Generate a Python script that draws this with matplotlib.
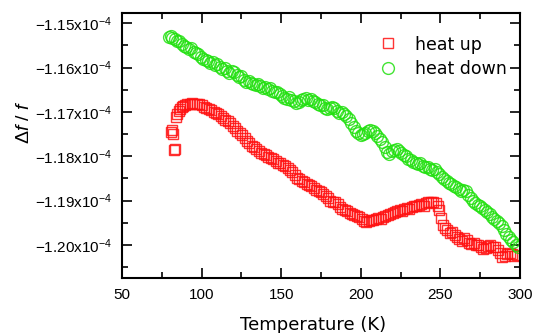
import numpy as np
import matplotlib.pyplot as plt
import matplotlib.ticker as mtick

# heat up (red squares), T in K, df/f in units of 1e-4
up_T = [81, 81.5, 82, 82.5, 83.5, 84, 84.5, 85.5, 86.5, 87.5, 88.5, 89.5, 91, 92.5, 94, 95.5, 97, 98.5,
        100, 101.5, 103, 104.5, 106, 107.5, 109, 110.5, 112, 113.5, 115, 116.5, 118, 119.5, 121, 122.5,
        124, 125.5, 127, 128.5, 130, 131.5, 133, 134.5, 136, 137.5, 139, 140.5, 142, 143.5, 145, 146.5,
        148, 149.5, 151, 152.5, 154, 155.5, 157, 158.5, 160, 161.5, 163, 164.5, 166, 167.5, 169, 170.5,
        172, 173.5, 175, 176.5, 178, 179.5, 181, 182.5, 184, 185.5, 187, 188.5, 190, 191.5, 193, 194.5,
        196, 197.5, 199, 200.5, 202, 203.5, 205, 206.5, 208, 209.5, 211, 212.5, 214, 215.5, 217, 218.5,
        220, 221.5, 223, 224.5, 226, 227.5, 229, 230.5, 232, 233.5, 235, 236.5, 238, 239.5, 241, 242.5,
        244, 245.5, 247, 248.5, 249.5, 250.5, 251.5, 253, 254.5, 256, 257.5, 259, 260.5, 262, 263.5, 265,
        266.5, 268, 269.5, 271, 272.5, 274, 275.5, 277, 278.5, 280, 281.5, 283, 284.5, 286, 287.5, 289,
        290.5, 292, 293.5, 295, 296.5, 298]
up_val = [-1.1745, -1.1740, -1.1749, -1.1786, -1.1783, -1.1712, -1.1705, -1.1698, -1.1693, -1.1689,
          -1.1687, -1.1685, -1.1683, -1.1681, -1.1680, -1.1681, -1.1682, -1.1683, -1.1685, -1.1688,
          -1.1690, -1.1693, -1.1696, -1.1699, -1.1702, -1.1705, -1.1709, -1.1713, -1.1717, -1.1721,
          -1.1726, -1.1732, -1.1737, -1.1742, -1.1748, -1.1753, -1.1759, -1.1765, -1.1771, -1.1776,
          -1.1780, -1.1783, -1.1788, -1.1792, -1.1795, -1.1798, -1.1801, -1.1804, -1.1807, -1.1811,
          -1.1814, -1.1816, -1.1819, -1.1822, -1.1826, -1.1831, -1.1836, -1.1842, -1.1848, -1.1852,
          -1.1855, -1.1858, -1.1862, -1.1865, -1.1868, -1.1872, -1.1876, -1.1878, -1.1880, -1.1884,
          -1.1889, -1.1895, -1.1900, -1.1904, -1.1903, -1.1908, -1.1915, -1.1918, -1.1920, -1.1923,
          -1.1927, -1.1930, -1.1932, -1.1934, -1.1937, -1.1941, -1.1946, -1.1948, -1.1945, -1.1943,
          -1.1944, -1.1941, -1.1940, -1.1942, -1.1937, -1.1935, -1.1933, -1.1930, -1.1928, -1.1926,
          -1.1924, -1.1921, -1.1923, -1.1919, -1.1916, -1.1918, -1.1914, -1.1912, -1.1913, -1.1910,
          -1.1908, -1.1911, -1.1906, -1.1904, -1.1903, -1.1902, -1.1905, -1.1912, -1.1922, -1.1938,
          -1.1955, -1.1962, -1.1966, -1.1972, -1.1970, -1.1977, -1.1981, -1.1986, -1.1990, -1.1984,
          -1.1988, -1.1995, -1.1998, -1.1996, -1.1999, -1.2001, -1.2005, -1.2008, -1.2006, -1.2002,
          -1.2000, -1.2004, -1.2005, -1.2012, -1.2018, -1.2026, -1.2024, -1.2020, -1.2018, -1.2021,
          -1.2025, -1.2022]

# heat down (green circles)
down_T = [79.5, 80.5, 81.5, 83, 84.5, 86, 87.5, 89, 90.5, 92, 93.5, 95, 96.5, 98, 99.5, 101, 102.5, 104,
          105.5, 107, 108.5, 110, 111.5, 113, 114.5, 116, 117.5, 119, 120.5, 122, 123.5, 125, 126.5, 128,
          129.5, 131, 132.5, 134, 135.5, 137, 138.5, 140, 141.5, 143, 144.5, 146, 147.5, 149, 150.5, 152,
          153.5, 155, 156.5, 158, 159.5, 161, 162.5, 164, 165.5, 167, 168.5, 170, 171.5, 173, 174.5, 176,
          177.5, 179, 180.5, 182, 183.5, 185, 186.5, 188, 189.5, 191, 192.5, 194, 195.5, 197, 198.5, 200,
          201.5, 203, 204.5, 206, 207.5, 209, 210.5, 212, 213.5, 215, 216.5, 218, 219.5, 221, 222.5, 224,
          225.5, 227, 228.5, 230, 231.5, 233, 234.5, 236, 237.5, 239, 240.5, 242, 243.5, 245, 246.5, 248,
          249.5, 251, 252.5, 254, 255.5, 257, 258.5, 260, 261.5, 263, 264.5, 266, 267.5, 269, 270.5, 272,
          273.5, 275, 276.5, 278, 279.5, 281, 282.5, 284, 285.5, 287, 288.5, 290, 291.5, 293, 294.5, 296,
          297.5, 299]
down_val = [-1.1531, -1.1528, -1.1534, -1.1536, -1.1541, -1.1540, -1.1547, -1.1551, -1.1553, -1.1558,
            -1.1556, -1.1565, -1.1568, -1.1570, -1.1575, -1.1580, -1.1582, -1.1586, -1.1590, -1.1588,
            -1.1594, -1.1592, -1.1598, -1.1603, -1.1601, -1.1607, -1.1612, -1.1608, -1.1611, -1.1616,
            -1.1622, -1.1620, -1.1627, -1.1632, -1.1630, -1.1634, -1.1637, -1.1640, -1.1638, -1.1641,
            -1.1646, -1.1644, -1.1648, -1.1646, -1.1652, -1.1656, -1.1654, -1.1660, -1.1664, -1.1668,
            -1.1671, -1.1667, -1.1673, -1.1676, -1.1679, -1.1677, -1.1674, -1.1670, -1.1668, -1.1672,
            -1.1670, -1.1675, -1.1678, -1.1682, -1.1685, -1.1684, -1.1690, -1.1694, -1.1692, -1.1688,
            -1.1691, -1.1697, -1.1702, -1.1699, -1.1705, -1.1709, -1.1716, -1.1725, -1.1735, -1.1742,
            -1.1748, -1.1752, -1.1750, -1.1747, -1.1742, -1.1740, -1.1744, -1.1748, -1.1754, -1.1760,
            -1.1768, -1.1780, -1.1790, -1.1794, -1.1789, -1.1786, -1.1784, -1.1788, -1.1793, -1.1796,
            -1.1800, -1.1806, -1.1809, -1.1812, -1.1815, -1.1818, -1.1816, -1.1822, -1.1825, -1.1823,
            -1.1828, -1.1831, -1.1829, -1.1835, -1.1840, -1.1846, -1.1852, -1.1856, -1.1860, -1.1862,
            -1.1866, -1.1870, -1.1874, -1.1878, -1.1876, -1.1879, -1.1888, -1.1895, -1.1900, -1.1905,
            -1.1910, -1.1912, -1.1917, -1.1921, -1.1926, -1.1931, -1.1936, -1.1942, -1.1946, -1.1951,
            -1.1958, -1.1966, -1.1975, -1.1982, -1.1988, -1.1994, -1.2000, -1.2005]

y_ticks = [-1.15, -1.16, -1.17, -1.18, -1.19, -1.20]
x_ticks = [50, 100, 150, 200, 250, 300]


def ytick_fmt(v, pos):
    return r'$\mathregular{-%.2fx10^{-4}}$' % abs(v * 1e4)


plt.rcParams['font.family'] = ['Liberation Sans', 'DejaVu Sans']
plt.rcParams['mathtext.fontset'] = 'custom'
plt.rcParams['mathtext.rm'] = 'Liberation Sans'
plt.rcParams['mathtext.it'] = 'Liberation Sans:italic'

fig = plt.figure(figsize=(5.34, 3.33), dpi=100)
ax = fig.add_axes([0.2285, 0.164, 0.745, 0.798])

ax.plot(up_T, np.array(up_val) * 1e-4, 's', mfc='none', mec='#ff1010', mew=1.0, ms=6.5,
        alpha=0.85, label='heat up')
ax.plot(down_T, np.array(down_val) * 1e-4, 'o', mfc='none', mec='#22e010', mew=1.0, ms=8.5,
        alpha=0.85, label='heat down')

ax.set_xlim(50, 300)
ax.set_ylim(-1.20752e-4, -1.14761e-4)
ax.set_xticks(x_ticks)
ax.set_yticks(np.array(y_ticks) * 1e-4)
ax.xaxis.set_minor_locator(mtick.MultipleLocator(25))
ax.yaxis.set_minor_locator(mtick.MultipleLocator(0.005e-4))
ax.yaxis.set_major_formatter(mtick.FuncFormatter(ytick_fmt))

ax.tick_params(which='both', direction='in', top=True, right=True, labelsize=11, width=1.2)
ax.tick_params(which='major', length=7, pad=7)
ax.tick_params(which='minor', length=4.5)
for s in ax.spines.values():
    s.set_linewidth(1.5)

ax.set_xlabel('Temperature (K)', family='DejaVu Sans', fontsize=13)
ax.xaxis.set_label_coords(0.48, -0.14)
ax.set_ylabel(r'$\mathit{\Delta f}$ / $\mathit{f}$', fontsize=14)
ax.yaxis.set_label_coords(-0.225, 0.59)

ax.legend(loc='upper right', bbox_to_anchor=(0.985, 0.94), frameon=False,
          prop={'family': 'DejaVu Sans', 'size': 12.5},
          handletextpad=0.9, borderaxespad=0.0, labelspacing=0.4, handlelength=1.3)

fig.savefig('out.png', dpi=100)
